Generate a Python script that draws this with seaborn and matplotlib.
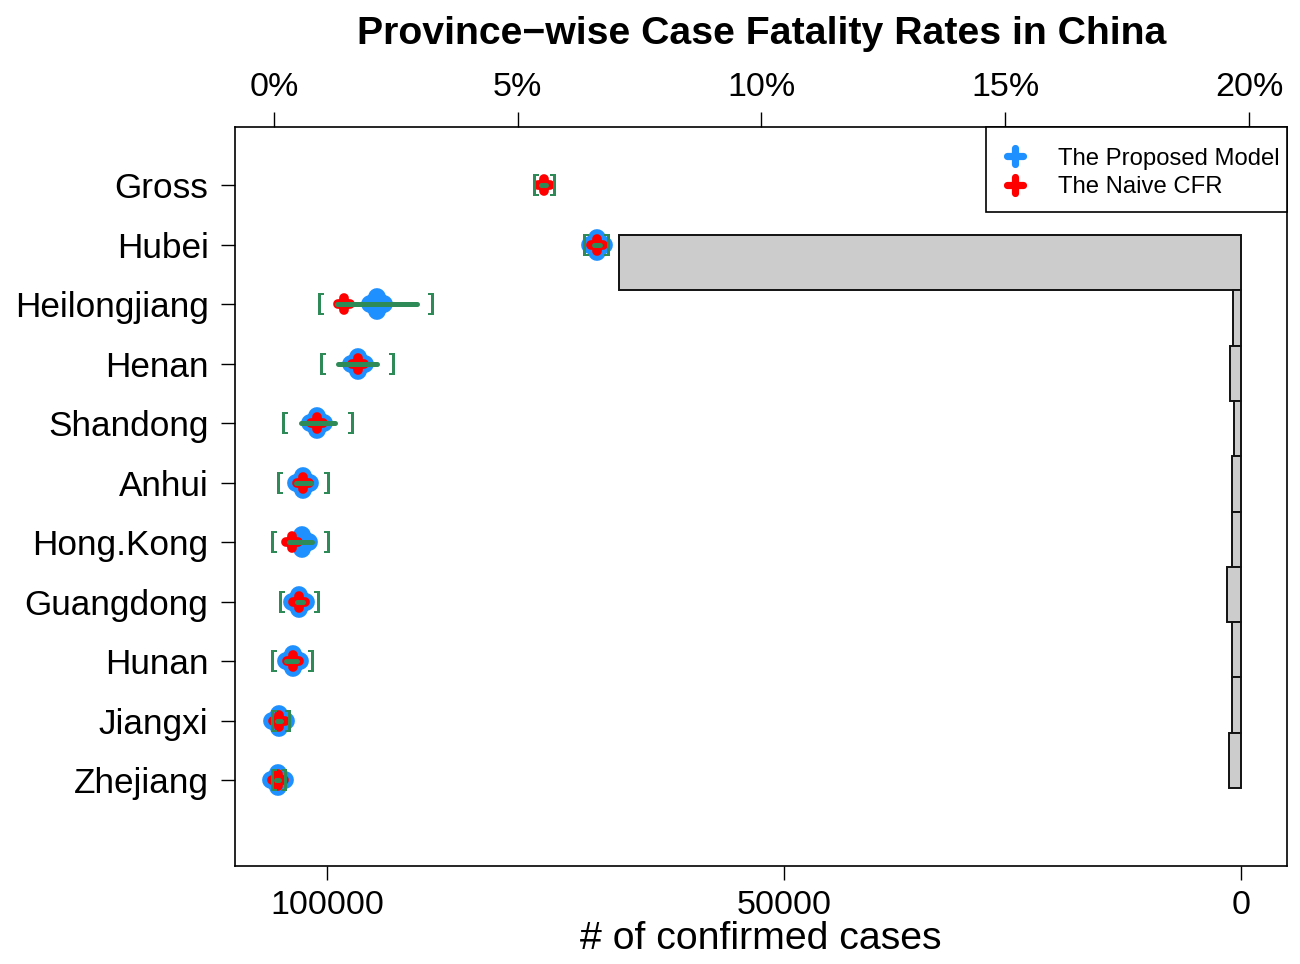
import numpy as np
import pandas as pd
import matplotlib
matplotlib.use("Agg")
import matplotlib.pyplot as plt
from matplotlib.markers import MarkerStyle
from matplotlib.lines import Line2D
from matplotlib.patches import Rectangle
import seaborn as sns

# ---------------- data ----------------
provinces = ["Gross", "Hubei", "Heilongjiang", "Henan", "Shandong", "Anhui",
             "Hong.Kong", "Guangdong", "Hunan", "Jiangxi", "Zhejiang"]
proposed_cfr = [np.nan, 6.62, 2.11, 1.72, 0.89, 0.60, 0.57, 0.52, 0.38, 0.10, 0.08]
naive_cfr = [5.53, 6.62, 1.44, 1.72, 0.89, 0.60, 0.36, 0.52, 0.38, 0.10, 0.08]
ci_low = [5.48, 6.56, 1.30, 1.32, 0.55, 0.45, 0.31, 0.47, 0.24, 0.06, 0.05]
ci_high = [5.58, 6.68, 2.93, 2.12, 1.26, 0.76, 0.77, 0.59, 0.47, 0.14, 0.11]
bracket_low = [5.37, 6.41, 0.96, 1.01, 0.23, 0.12, 0.01, 0.16, 0.00, 0.00, 0.01]
bracket_high = [5.72, 6.84, 3.23, 2.42, 1.57, 1.08, 1.08, 0.89, 0.76, 0.29, 0.20]

bar_provinces = provinces[1:]
confirmed_cases = [68100, 850, 1200, 760, 990, 990, 1530, 1018, 935, 1270]

pct_ticks = [0, 5, 10, 15, 20]
pct_labels = ["0%", "5%", "10%", "15%", "20%"]
case_ticks = [100000, 50000, 0]
case_labels = ["100000", "50000", "0"]

legend_labels = ["The Proposed Model", "The Naive CFR"]
title = "Province\u2212wise Case Fatality Rates in China"
xlabel = "# of confirmed cases"

BLUE = "#1E90FF"
RED = "#FF0000"
GREEN = "#2E8B57"
GREY = "#CCCCCC"

# ---------------- style ----------------
sns.set_theme(style="white")
plt.rcParams["font.family"] = ["Liberation Sans", "DejaVu Sans"]
plt.rcParams["axes.edgecolor"] = "black"
plt.rcParams["axes.labelcolor"] = "black"
plt.rcParams["text.color"] = "black"
plt.rcParams["xtick.color"] = "black"
plt.rcParams["ytick.color"] = "black"
plt.rcParams["xtick.labelcolor"] = "black"
plt.rcParams["ytick.labelcolor"] = "black"

W, H = 1300, 964
fig = plt.figure(figsize=(W / 100, H / 100), dpi=100)
fig.patch.set_facecolor("white")
AX_L, AX_R, AX_T, AX_B = 235, 1287, 127, 866
pos = [AX_L / W, 1 - AX_B / H, (AX_R - AX_L) / W, (AX_B - AX_T) / H]

# ---------------- bar layer (confirmed cases) ----------------
ax_bar = fig.add_axes(pos)
sns.barplot(x=confirmed_cases, y=bar_provinces, orient="h", color=GREY,
            saturation=1, width=1.0, edgecolor="#111111", linewidth=1.4,
            ax=ax_bar)
ax_bar.set_xlim(110066, -5033)
ax_bar.set_ylim(10.91, -2.453)
ax_bar.set_yticks([])
ax_bar.set_ylabel("")
ax_bar.set_xticks(case_ticks, case_labels)
ax_bar.tick_params(axis="x", bottom=True, top=False, length=10, width=1.0,
                   labelsize=24.5, pad=7, colors="black")
ax_bar.set_xlabel(xlabel, fontsize=28.3, labelpad=0, color="black")
for sp in ax_bar.spines.values():
    sp.set_visible(True)
    sp.set_color("black")
    sp.set_linewidth(1.2)

# ---------------- CFR layer ----------------
ax = fig.add_axes(pos, facecolor="none")
ax.set_zorder(ax_bar.get_zorder() + 1)
rows = np.arange(len(provinces))

plus = MarkerStyle("+", capstyle="round")

sns.scatterplot(x=proposed_cfr, y=rows, marker=plus, s=100, linewidth=12.8,
                color=BLUE, ax=ax, legend=False)
ax.collections[-1].set_capstyle("round")
sns.scatterplot(x=naive_cfr, y=rows, marker=plus, s=77, linewidth=7,
                color=RED, ax=ax, legend=False)
ax.collections[-1].set_capstyle("round")

ci_df = pd.DataFrame({
    "x": ci_low + ci_high,
    "y": list(rows) + list(rows),
    "unit": list(provinces) + list(provinces),
})
sns.lineplot(data=ci_df, x="x", y="y", units="unit", estimator=None,
             color=GREEN, linewidth=3.6, sort=True, ax=ax, legend=False)
for ln in ax.lines:
    ln.set_solid_capstyle("round")

sns.scatterplot(x=bracket_low, y=rows, marker="$[$", s=250, linewidth=0,
                color=GREEN, ax=ax, legend=False)
sns.scatterplot(x=bracket_high, y=rows, marker="$]$", s=250, linewidth=0,
                color=GREEN, ax=ax, legend=False)

ax.set_xlim(-0.8, 20.78)
ax.set_ylim(11.445, -0.975)
ax.set_xlabel("")
ax.set_ylabel("")
ax.xaxis.tick_top()
ax.set_xticks(pct_ticks, pct_labels)
ax.tick_params(axis="x", top=True, bottom=False, labeltop=True,
               labelbottom=False, length=10.5, width=1.0, labelsize=24.5,
               pad=7, colors="black")
ax.set_yticks(rows, provinces)
ax.tick_params(axis="y", left=True, length=10, width=1.0, labelsize=25.3,
               pad=9, colors="black")
for sp in ax.spines.values():
    sp.set_visible(False)

# ---------------- legend (box drawn separately to match R padding) -------
def fx(px):
    return (px - AX_L) / (AX_R - AX_L)

def fy(py):
    return (AX_B - py) / (AX_B - AX_T)

box = Rectangle((fx(986), fy(212)), fx(1287) - fx(986), fy(127) - fy(212),
                transform=ax.transAxes, facecolor="white", edgecolor="black",
                linewidth=1.2, zorder=4.5, clip_on=False)
ax.add_patch(box)

handles = [
    Line2D([0], [0], marker=MarkerStyle("+", capstyle="round"), linestyle="None",
           color=BLUE, markersize=11, markeredgewidth=5.2),
    Line2D([0], [0], marker=MarkerStyle("+", capstyle="round"), linestyle="None",
           color=RED, markersize=11, markeredgewidth=5.2),
]
leg = ax.legend(handles, legend_labels, loc="upper left",
                bbox_to_anchor=(fx(1005), fy(147.5)), borderaxespad=0,
                borderpad=0, frameon=False, fontsize=17.2,
                handlelength=0.8, handletextpad=1.4, labelspacing=0.27)
leg.set_zorder(5)

fig.text(761.5 / W, 1 - 44 / H, title, ha="center", va="baseline",
         fontsize=28.3, fontweight="bold")

fig.savefig("out.png", dpi=100)
